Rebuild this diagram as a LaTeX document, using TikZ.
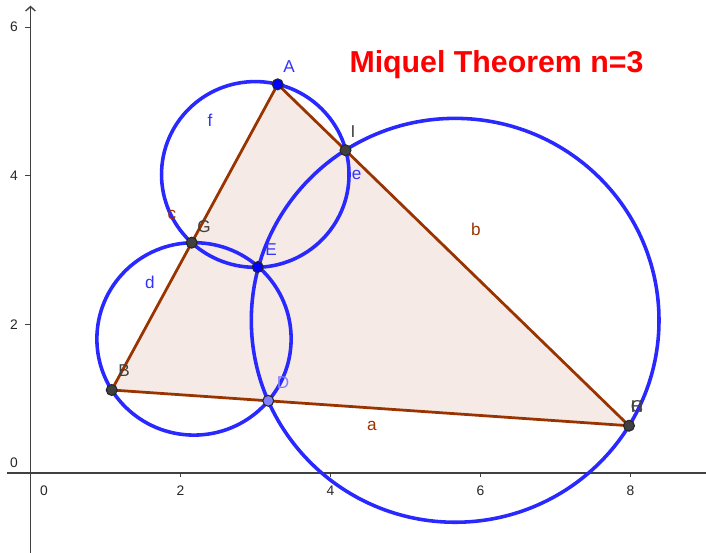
\documentclass[tikz,border=0pt]{standalone}
\usepackage{fontspec}
\setmainfont{Liberation Sans}
\usepackage{tikz}
\usetikzlibrary{arrows.meta,calc}
\definecolor{gblue}{RGB}{0,0,255}
\definecolor{gcirc}{RGB}{40,40,255}
\definecolor{glabel}{RGB}{51,51,255}
\definecolor{gbrown}{RGB}{153,51,0}
\definecolor{ggray}{RGB}{64,64,64}
\definecolor{glight}{RGB}{128,128,255}
\definecolor{gtitle}{RGB}{255,0,0}
\tikzset{
  mcirc/.style={draw=gcirc,line width=2.7pt},
  mside/.style={draw=gbrown,line width=2.1pt},
  maxis/.style={draw=ggray,line width=1pt},
  mpt/.style={circle,draw=black!85,line width=0.8pt,inner sep=0pt,minimum size=8.3pt},
  mlbl/.style={font=\fontsize{13}{15}\selectfont,inner sep=0pt},
  mnum/.style={font=\fontsize{10.5}{12}\selectfont,text=black!85,inner sep=0pt}
}
\begin{document}
\begin{tikzpicture}[x=2cm,y=1.9813cm]
  \useasboundingbox (-0.4067,-1.0767) rectangle (9.0067,6.3661);
  % axes
  \draw[maxis] (-0.313,0) -- (9.0067,0);
  \draw[maxis,-{Straight Barb[length=1.2mm,width=2.6mm]}] (0,-1.0767) -- (0,6.29);
  \foreach \t in {2,4,6,8}{
    \draw[maxis] (\t,0) -- (\t,-0.054);
    \node[mnum] (x\t) at (\t,-0.242) {\t};
  }
  \foreach \t in {2,4,6}{
    \draw[maxis] (0,\t) -- (-0.08,\t);
    \node[mnum] (y\t) at (-0.22,\t) {\t};
  }
  \node[mnum] (x0) at (0.18,-0.242) {0};
  \node[mnum] (y0) at (-0.22,0.135) {0};
  % triangle and its points
  \coordinate (A) at (3.296,5.231);
  \coordinate (B) at (1.083,1.117);
  \coordinate (C) at (7.98,0.636);
  \coordinate (G) at ($(B)!0.482!(A)$);
  \coordinate (I) at ($(C)!0.807!(A)$);
  \coordinate (D) at ($(B)!0.3026!(C)$);
  \coordinate (E) at (3.03,2.772);
  \fill[gbrown,fill opacity=0.1] (A) -- (B) -- (C) -- cycle;
  \draw[mside] (A) -- (B) -- (C) -- cycle;
  % Miquel circles
  \coordinate (cf) at (2.997,4.018);
  \coordinate (cd) at (2.18,1.805);
  \coordinate (ce) at (5.662,2.055);
  \draw[mcirc] (cf) circle[radius=1.25];
  \draw[mcirc] (cd) circle[radius=1.295];
  \draw[mcirc] (ce) circle[radius=2.718];
  \node[mpt,fill=gblue] (pA) at (A) {};
  \node[mpt,fill=ggray] (pB) at (B) {};
  \node[mpt,fill=ggray] (pC) at (C) {};
  \node[mpt,fill=ggray] (pG) at (G) {};
  \node[mpt,fill=ggray] (pI) at (I) {};
  \node[mpt,fill=glight] (pD) at (D) {};
  \node[mpt,fill=gblue] (pE) at (E) {};
  % labels
  \node[mlbl,text=glabel] (lA) at (3.447,5.464) {A};
  \node[mlbl,text=ggray] (lI) at (4.3,4.589) {I};
  \node[mlbl,text=ggray] (lG) at (2.313,3.311) {G};
  \node[mlbl,text=glabel] (lE) at (3.207,3.001) {E};
  \node[mlbl,text=ggray] (lB) at (1.247,1.373) {B};
  \node[mlbl,text=glight] (lD) at (3.367,1.211) {D};
  \node[mlbl,text=ggray] (lC) at (8.087,0.888) {C};
  \node[mlbl,text=ggray] (lH) at (8.087,0.888) {H};
  \node[mlbl,text=glabel] (lf) at (2.393,4.751) {f};
  \node[mlbl,text=glabel] (le) at (4.347,4.011) {e};
  \node[mlbl,text=glabel] (ld) at (1.593,2.571) {d};
  \node[mlbl,text=gbrown] (lc) at (1.887,3.472) {c};
  \node[mlbl,text=gbrown] (lb) at (5.94,3.284) {b};
  \node[mlbl,text=gbrown] (la) at (4.553,0.633) {a};
  \node[font=\fontsize{23}{26}\selectfont\bfseries,text=gtitle] (title) at (6.213,5.498) {Miquel Theorem n=3};
\end{tikzpicture}
\end{document}
